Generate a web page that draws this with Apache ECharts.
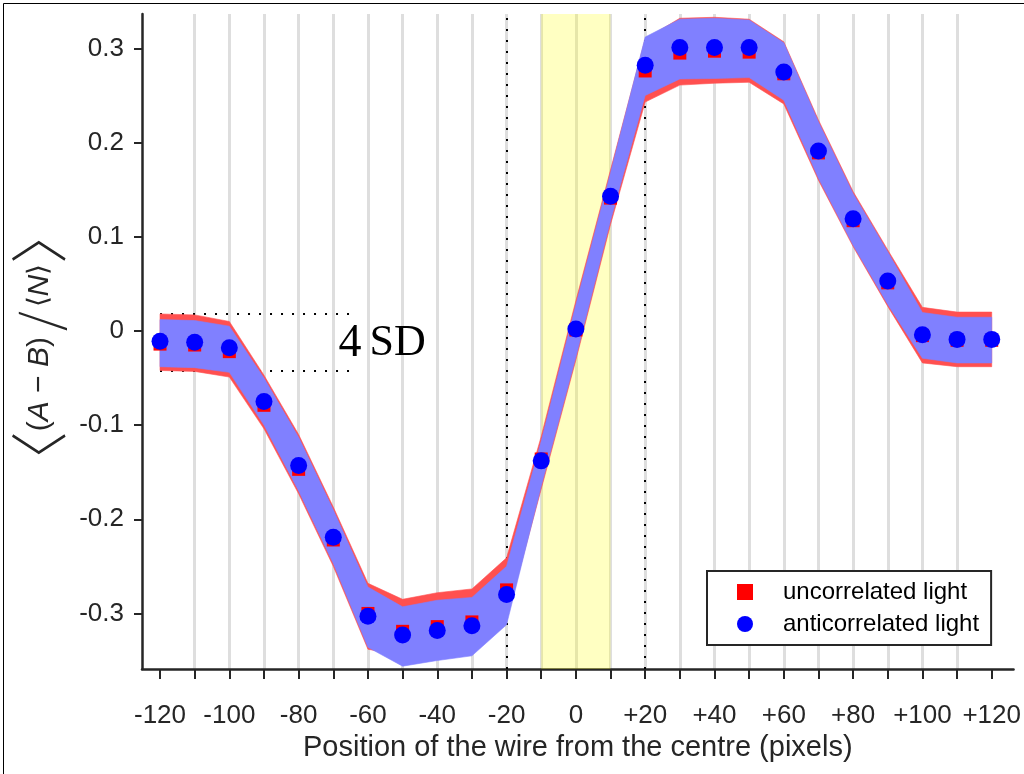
<!DOCTYPE html>
<html><head><meta charset="utf-8">
<script src="https://cdn.jsdelivr.net/npm/echarts@6/dist/echarts.min.js"></script>
<style>html,body{margin:0;padding:0;background:#fff}#c{width:1024px;height:774px}</style>
</head><body><div id="c"></div>
<script>
// ---- data ----
const positions = [-120,-110,-100,-90,-80,-70,-60,-50,-40,-30,-20,-10,0,10,20,30,40,50,60,70,80,90,100,110,120];
const anticorrelated = [-0.011,-0.012,-0.018,-0.075,-0.143,-0.219,-0.303,-0.323,-0.318,-0.313,-0.280,-0.138,0.002,0.143,0.282,0.301,0.301,0.301,0.275,0.191,0.119,0.053,-0.004,-0.009,-0.009];
const uncorrelated   = [-0.014,-0.015,-0.022,-0.079,-0.147,-0.222,-0.300,-0.319,-0.314,-0.309,-0.275,-0.136,0.001,0.141,0.276,0.295,0.297,0.296,0.273,0.189,0.117,0.051,-0.005,-0.010,-0.010];
const uncorrUpper = [0.018,0.017,0.010,-0.047,-0.110,-0.187,-0.268,-0.285,-0.278,-0.274,-0.241,-0.112,0.032,0.171,0.310,0.332,0.333,0.331,0.307,0.224,0.148,0.086,0.025,0.020,0.020];
const uncorrLower = [-0.042,-0.043,-0.049,-0.104,-0.173,-0.250,-0.338,-0.345,-0.340,-0.336,-0.305,-0.168,-0.031,0.113,0.243,0.261,0.263,0.264,0.241,0.160,0.0895,0.026,-0.034,-0.038,-0.038];
const anticUpper = [0.012,0.011,0.005,-0.050,-0.113,-0.190,-0.272,-0.293,-0.286,-0.283,-0.250,-0.117,0.028,0.168,0.312,0.331,0.332,0.330,0.306,0.222,0.146,0.084,0.0195,0.0145,0.0145];
const anticLower = [-0.038,-0.039,-0.044,-0.100,-0.170,-0.247,-0.336,-0.356,-0.350,-0.345,-0.312,-0.165,-0.028,0.117,0.250,0.2675,0.268,0.269,0.245,0.162,0.091,0.028,-0.029,-0.034,-0.034];
const xTickValues = [-120,-110,-100,-90,-80,-70,-60,-50,-40,-30,-20,-10,0,10,20,30,40,50,60,70,80,90,100,110,120];
const xLabelValues = [-120,-100,-80,-60,-40,-20,0,20,40,60,80,100,120];
const xTickLabels = ['-120','-100','-80','-60','-40','-20','0','+20','+40','+60','+80','+100','+120'];
const yTickValues = [-0.3,-0.2,-0.1,0,0.1,0.2,0.3];
const yTickLabels = ['-0.3','-0.2','-0.1','0','0.1','0.2','0.3'];
const wireLines = [-20, 20];
const centreBand = [-10, 10];
const sdLevels = [0.018, -0.042];
const sdRange = [-120, -63];
const sdLabelAt = [-68.5, -0.0135];
const seriesNames = ['uncorrelated light', 'anticorrelated light'];

const FONT = 'Liberation Sans';
const INK = '#262626';

function bandRender(upper, lower, color) {
  return function (params, api) {
    if (params.dataIndex !== 0) return null;
    const pts = [];
    for (let i = 0; i < positions.length; i++) pts.push(api.coord([positions[i], upper[i]]));
    for (let i = positions.length - 1; i >= 0; i--) pts.push(api.coord([positions[i], lower[i]]));
    return { type: 'polygon', shape: { points: pts }, style: { fill: color, stroke: color, lineWidth: 0.6 } };
  };
}

const chart = echarts.init(document.getElementById('c'), null, { renderer: 'canvas' });
chart.setOption({
  animation: false,
  backgroundColor: '#fff',
  grid: { left: 142, right: 7, top: 14, bottom: 105 },
  xAxis: {
    type: 'value', min: -125.2, max: 126.3, interval: 10,
    axisLine: { show: true, onZero: false, lineStyle: { color: INK, width: 2.5 } },
    axisTick: { show: true, customValues: xTickValues, length: 10, lineStyle: { color: INK, width: 2 } },
    axisLabel: { customValues: xLabelValues, margin: 34, fontSize: 26, fontFamily: FONT, color: INK,
      formatter: v => xTickLabels[xLabelValues.indexOf(v)] },
    splitLine: { show: true, showMinLine: false, showMaxLine: false, lineStyle: { color: '#dedede', width: 3 } },
    name: 'Position of the wire from the centre (pixels)', nameLocation: 'middle', nameGap: 64,
    nameTextStyle: { fontSize: 29, fontFamily: FONT, color: INK }
  },
  yAxis: {
    type: 'value', min: -0.359, max: 0.3365,
    axisLine: { show: true, onZero: false, lineStyle: { color: INK, width: 2.5 } },
    axisTick: { show: true, customValues: yTickValues, length: 8, lineStyle: { color: INK, width: 2 } },
    axisLabel: { customValues: yTickValues, margin: 18, fontSize: 26, fontFamily: FONT, color: INK,
      formatter: v => { const i = yTickValues.findIndex(t => Math.abs(t - v) < 1e-9); return i >= 0 ? yTickLabels[i] : ''; } },
    splitLine: { show: false },
    name: '{b|〈}{n|(}{i|A}{n| − }{i|B}{n|)}{s|/}{m|⟨}{i|N}{m|⟩}{b|〉}',
    nameLocation: 'middle', nameRotate: 90, nameGap: 63,
    nameTextStyle: {
      color: INK, padding: [0, 12, 0, 0],
      rich: {
        b: { fontSize: 58, fontFamily: 'Noto Sans CJK SC', color: INK, fontWeight: 300 },
        m: { fontSize: 28, fontFamily: 'DejaVu Sans', color: INK, fontWeight: 200 },
        n: { fontSize: 30, fontFamily: FONT, color: INK },
        i: { fontSize: 30, fontFamily: FONT, fontStyle: 'italic', color: INK },
        s: { fontSize: 50, fontFamily: 'Noto Sans CJK SC', color: INK, fontWeight: 300, padding: [0, 4, 0, 6] }
      }
    }
  },
  legend: {
    orient: 'vertical', left: 707, top: 571,
    padding: [9, 12, 9, 30],
    itemWidth: 16, itemHeight: 16, itemGap: 8,
    borderColor: INK, borderWidth: 2, backgroundColor: '#fff',
    textStyle: { fontSize: 24, fontFamily: FONT, color: '#000', lineHeight: 24, padding: [0, 0, 0, 25] },
    data: [{ name: seriesNames[0], icon: 'rect' }, { name: seriesNames[1], icon: 'circle' }]
  },
  graphic: [{ type: 'rect', left: 1, top: 1, z: 100, silent: true,
    shape: { width: 1021, height: 771 }, style: { fill: 'none', stroke: '#000', lineWidth: 1 } }],
  series: [
    {
      type: 'line', data: [], z: 1, silent: true,
      markArea: { z: 1, silent: true, itemStyle: { color: 'rgba(255,255,0,0.24)' },
        data: [[{ xAxis: centreBand[0] }, { xAxis: centreBand[1] }]] },
      markLine: { z: 1, silent: true, symbol: 'none', label: { show: false },
        lineStyle: { color: '#000', type: [2, 9], width: 2 },
        data: wireLines.map(x => ({ xAxis: x })).concat(
          sdLevels.map(y => [{ coord: [sdRange[0], y] }, { coord: [sdRange[1], y] }])) },
      markPoint: { z: 1, silent: true, symbol: 'circle', symbolSize: 0,
        label: { show: true, position: 'right', distance: 0, formatter: '{a|4}{b|SD}',
          rich: { a: { fontSize: 46, fontFamily: 'Liberation Serif', color: '#000', padding: [0, 8, 0, 0] },
                  b: { fontSize: 44, fontFamily: 'Liberation Serif', color: '#000' } } },
        data: [{ coord: sdLabelAt }] }
    },
    { type: 'custom', name: 'uncorrBand', z: 2, silent: true, renderItem: bandRender(uncorrUpper, uncorrLower, '#ff5050'),
      data: positions.map((x, i) => [x, uncorrUpper[i], uncorrLower[i]]), encode: { x: 0, y: [1, 2] } },
    { type: 'custom', name: 'anticBand', z: 3, silent: true, renderItem: bandRender(anticUpper, anticLower, '#8080ff'),
      data: positions.map((x, i) => [x, anticUpper[i], anticLower[i]]), encode: { x: 0, y: [1, 2] } },
    { type: 'scatter', name: seriesNames[0], z: 4, symbol: 'rect', symbolSize: 13, itemStyle: { color: '#ff0000', opacity: 1 },
      data: positions.map((x, i) => [x, uncorrelated[i]]) },
    { type: 'scatter', name: seriesNames[1], z: 5, symbol: 'circle', symbolSize: 17, itemStyle: { color: '#0000ff', opacity: 1 },
      data: positions.map((x, i) => [x, anticorrelated[i]]) }
  ]
});
</script></body></html>
